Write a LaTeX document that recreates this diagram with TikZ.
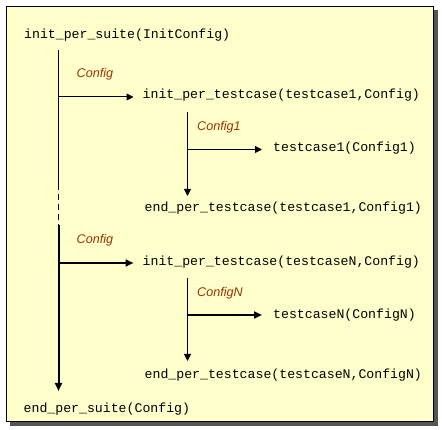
\documentclass[tikz,border=0pt]{standalone}
\usepackage{fontspec}
\setmainfont{Liberation Sans}
\newfontfamily\codefont{Liberation Mono}
\usetikzlibrary{arrows.meta}
\definecolor{bgyellow}{RGB}{255,255,204}
\definecolor{shadowgray}{RGB}{85,85,85}
\definecolor{labelred}{RGB}{153,51,0}
\tikzset{
  code/.style={anchor=base west, inner sep=0pt, font=\codefont\fontsize{13.2}{15}\selectfont},
  lbl/.style={anchor=base west, inner sep=0pt, text=labelred, font=\fontsize{12.6}{14}\selectfont\itshape},
  thinline/.style={line width=1pt, black},
  thickline/.style={line width=2pt, black},
  tip/.style={-{Triangle[length=7pt,width=7pt]}}
}
\begin{document}
\begin{tikzpicture}[x=1pt,y=-1pt]
\useasboundingbox (0,0) rectangle (442,430);
% shadow and box
\fill[shadowgray] (10,10) rectangle (437.5,425.5);
\filldraw[fill=bgyellow, draw=black, line width=1pt] (6.5,6.5) rectangle (433.5,421.5);

% texts
\node[code] (suite) at (24,39) {init\_per\_suite(InitConfig)};
\node[lbl] (cfgA) at (76.5,78) {Config};
\node[code] (init1) at (142.5,99) {init\_per\_testcase(testcase1,Config)};
\node[lbl] (cfg1) at (197,130.5) {Config1};
\node[code] (tc1) at (273,152) {testcase1(Config1)};
\node[code] (end1) at (144.5,212) {end\_per\_testcase(testcase1,Config1)};
\node[lbl] (cfgB) at (76.5,244) {Config};
\node[code] (initN) at (142.5,266) {init\_per\_testcase(testcaseN,Config)};
\node[lbl] (cfgN) at (197,296.5) {ConfigN};
\node[code] (tcN) at (273,319) {testcaseN(ConfigN)};
\node[code] (endN) at (144.5,378) {end\_per\_testcase(testcaseN,ConfigN)};
\node[code] (endsuite) at (23.5,412) {end\_per\_suite(Config)};

% coordinates on the main line
\coordinate (m0) at (58.5,50.5);
\coordinate (m1) at (58.5,184);
\coordinate (m2) at (58.5,225);
\coordinate (m3) at (58.5,391);
\coordinate (a1) at (58.5,97);
\coordinate (aN) at (58.5,263);
\coordinate (b1top) at (187.5,112);
\coordinate (b1) at (187.5,149.5);
\coordinate (b1end) at (187.5,196);
\coordinate (bNtop) at (187.5,278);
\coordinate (bN) at (187.5,315);
\coordinate (bNend) at (187.5,361);

% main line
\draw[thinline] (m0) -- (m1);
\draw[thinline, dash pattern=on 6pt off 4pt] (m1) -- (m2);
\draw[thickline, -{Triangle[length=8pt,width=7pt]}] (m2) -- (m3);

% branches from main line
\draw[thinline, tip] (a1) -- (a1 -| 133.5,0);
\draw[thickline, -{Triangle[length=8pt,width=7pt]}] (aN) -- (aN -| 133.5,0);

% testcase 1 block
\draw[thinline, tip] (b1top) -- (b1end);
\draw[thinline, tip] (b1) -- (b1 -| 262,0);

% testcase N block
\draw[thinline, tip] (bNtop) -- (bNend);
\draw[thickline, -{Triangle[length=8pt,width=7pt]}] (bN) -- (bN -| 262,0);
\end{tikzpicture}
\end{document}
